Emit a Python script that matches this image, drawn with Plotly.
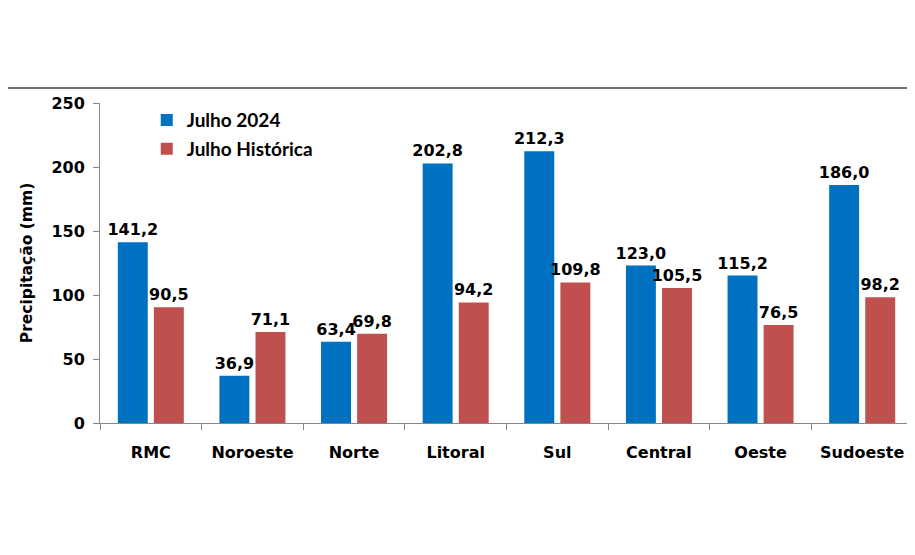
import plotly.graph_objects as go

categories = ["RMC", "Noroeste", "Norte", "Litoral", "Sul", "Central", "Oeste", "Sudoeste"]
julho_2024 = [141.2, 36.9, 63.4, 202.8, 212.3, 123.0, 115.2, 186.0]
julho_historica = [90.5, 71.1, 69.8, 94.2, 109.8, 105.5, 76.5, 98.2]
y_ticks = [0, 50, 100, 150, 200, 250]

FONT = "DejaVu Sans"
lbl_font = dict(family=FONT, size=16, color="black", weight="bold")

fig = go.Figure()
fig.add_trace(go.Bar(x=categories, y=julho_2024, name="Julho 2024",
                     marker=dict(color="#0070C0", line=dict(width=0)),
                     texttemplate="%{y:.1f}", textposition="outside",
                     constraintext="none", textfont=lbl_font, cliponaxis=False,
                     legendgroup="a"))
fig.add_trace(go.Bar(x=categories, y=julho_historica, name="Julho Histórica",
                     marker=dict(color="#C0504D", line=dict(width=0)),
                     texttemplate="%{y:.1f}", textposition="outside",
                     constraintext="none", textfont=lbl_font, cliponaxis=False,
                     legendgroup="b"))

fig.update_layout(
    width=907, height=547,
    margin=dict(l=92, r=2, t=95, b=132),
    paper_bgcolor="white", plot_bgcolor="white",
    separators=",.",
    barmode="group", bargap=0.29, bargroupgap=0.17,
    font=dict(family=FONT, size=16, color="black"),
    showlegend=True,
    legend=dict(x=0.0575, y=1.006, xanchor="left", yanchor="top",
                font=dict(family="Lato", size=19, color="black", weight="bold"),
                bgcolor="rgba(0,0,0,0)", itemwidth=30, tracegroupgap=1),
)
fig.update_xaxes(showline=True, linecolor="#868686", linewidth=1,
                 ticks="outside", tickson="boundaries", ticklen=6, tickcolor="#868686",
                 tickfont=dict(family=FONT, size=16, color="black", weight="bold"),
                 showgrid=False, ticklabelstandoff=15)
fig.update_yaxes(range=[0, 250], tickvals=y_ticks, showline=True, linecolor="#868686",
                 linewidth=1, ticks="outside", ticklen=6, tickcolor="#868686",
                 tickfont=dict(family=FONT, size=16, color="black", weight="bold"),
                 showgrid=False, zeroline=False, ticklabelstandoff=5,
                 title=dict(text="Precipitação (mm)", standoff=14,
                            font=dict(family=FONT, size=15.5, color="black", weight="bold")))
fig.add_shape(type="line", xref="paper", yref="paper", x0=-0.2, x1=1.01, y0=1.047, y1=1.047,
              line=dict(color="#404040", width=1.5))
fig.write_html("out.html")
